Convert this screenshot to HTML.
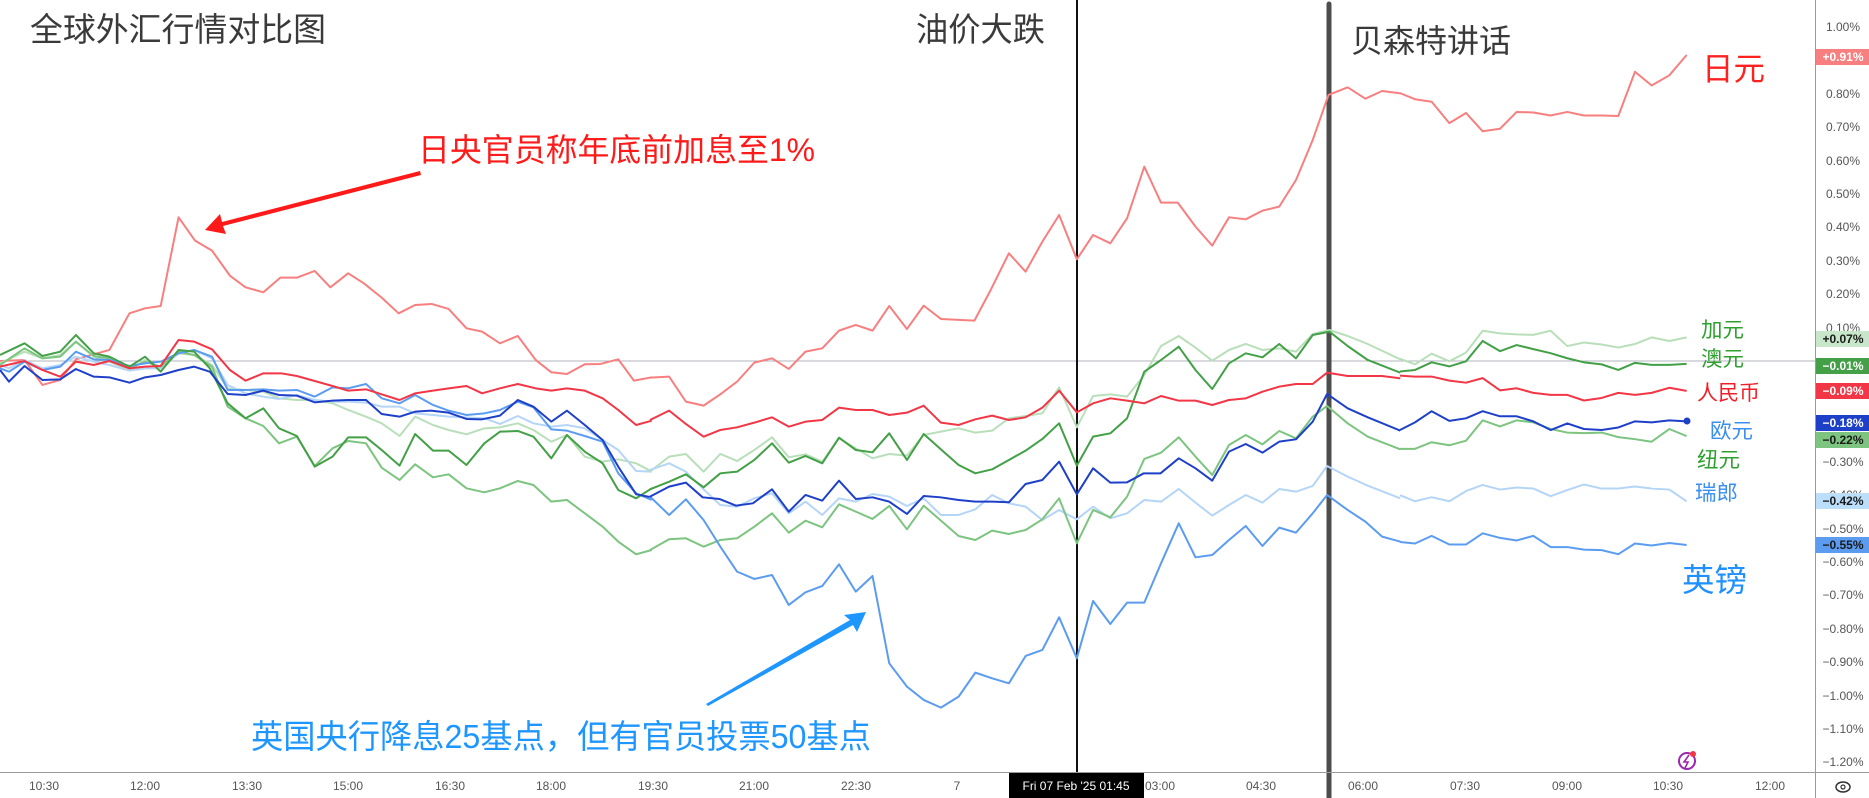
<!DOCTYPE html>
<html><head><meta charset="utf-8"><style>
html,body{margin:0;padding:0;background:#fff;}
svg{display:block;font-family:"Liberation Sans","Noto Sans CJK SC",sans-serif;}
.s{fill:none;stroke-width:2;stroke-linejoin:round;vector-effect:non-scaling-stroke;}
</style></head><body>
<svg width="1869" height="798" viewBox="0 0 1869 798" xmlns="http://www.w3.org/2000/svg">
<rect width="1869" height="798" fill="#fff"/>
<line x1="0" y1="361" x2="1815" y2="361" stroke="#b2b5be" stroke-width="1"/>
<line x1="1077" y1="0" x2="1077" y2="773" stroke="#111" stroke-width="2"/>
<line x1="1329" y1="4" x2="1329" y2="798" stroke="#4d4d4d" stroke-width="5" stroke-linecap="round"/>

<!-- Segment A: zoom3 (oy 300) / zoom5 (oy 0) -->
<g transform="scale(0.4464,0.3333)">
<polyline class="s" stroke="#f77f7f" points="0,1083 55,1080 95,1155 135,1140 170,1078 245,1050 290,940 325,925 360,918 400,652 437,722 475,752 515,827 550,862 590,877 628,833 665,833 705,813 740,862 780,820 815,850 855,893 893,940 930,915 967,912 1005,927 1045,985 1080,995 1120,1030 1160,1008 1200,1080 1235,1117 1270,1122 1310,1093 1345,1092 1385,1078 1420,1142 1460,1132"/>
</g>
<g transform="translate(0,300) scale(0.4464,0.3333)">
<polyline class="s" stroke="#b9dfba" points="0,190 55,155 95,175 135,165 170,125 210,170 245,185 290,210 325,180 360,205 400,160 435,165 475,195 510,265 550,270 590,275 625,295 665,300 705,300 745,310 780,330 820,350 855,370 895,408 930,350 970,375 1005,390 1045,403 1085,385 1120,382 1160,370 1195,390 1235,425 1270,405 1310,470 1350,485 1385,478 1425,490 1460,515"/>
<polyline class="s" stroke="#b5d5f7" points="0,195 20,205 55,180 95,205 135,195 170,170 210,185 245,195 290,212 325,205 360,205 400,160 435,150 475,175 510,255 550,280 590,290 625,297 665,285 705,300 745,305 780,305 820,308 855,320 895,320 930,340 970,345 1005,350 1045,352 1085,355 1120,372 1160,348 1195,370 1235,380 1270,375 1310,385 1350,420 1385,450 1425,513 1460,515"/>
<polyline class="s" stroke="#7cc47f" points="0,195 55,145 95,175 135,170 170,125 210,168 245,175 290,205 325,185 360,200 400,155 435,165 475,200 510,320 550,355 590,378 625,430 665,410 705,498 745,445 780,423 820,430 855,503 895,540 930,493 970,532 1005,523 1045,565 1085,577 1120,565 1160,543 1195,555 1235,605 1270,600 1310,640 1350,680 1385,725 1425,763 1460,750"/>
<polyline class="s" stroke="#5b9cf0" points="0,205 20,215 55,185 95,210 135,200 170,155 210,178 245,180 290,198 325,190 360,185 400,160 435,150 475,170 510,270 550,270 590,268 625,272 665,270 705,290 745,262 780,265 820,252 855,295 895,310 930,285 970,315 1005,332 1045,345 1085,340 1120,330 1160,305 1195,322 1235,388 1270,392 1310,408 1350,425 1385,520 1425,580 1460,600"/>
<polyline class="s" stroke="#43a047" points="0,165 55,130 95,168 135,155 170,105 210,160 245,170 290,200 325,170 360,215 400,150 435,155 470,205 510,310 550,355 590,325 625,385 665,408 705,500 745,470 780,412 820,412 855,450 895,497 930,402 970,452 1005,452 1045,495 1085,430 1120,395 1160,393 1195,410 1235,475 1270,405 1310,455 1350,490 1385,570 1425,595 1460,565"/>
<polyline class="s" stroke="#1e40c8" points="0,210 20,245 55,198 95,240 135,238 170,207 210,230 245,232 290,248 325,232 360,225 400,210 435,200 470,215 510,282 550,285 590,272 625,285 665,287 705,307 745,302 780,300 820,300 855,342 895,350 930,335 965,332 1005,338 1045,357 1080,358 1120,347 1160,300 1195,320 1235,365 1270,332 1310,375 1350,420 1385,500 1425,583 1460,592"/>
<polyline class="s" stroke="#f23645" points="0,200 55,183 95,210 135,230 170,185 210,195 245,183 290,205 325,200 360,198 400,120 435,125 475,148 515,210 550,242 590,220 630,220 665,228 705,243 745,258 780,272 820,268 855,283 895,300 930,280 970,272 1005,265 1045,258 1080,280 1120,265 1160,252 1200,265 1235,272 1270,265 1310,272 1350,295 1385,330 1425,375 1460,362"/>
</g>

<!-- Segment B: zoom6 (oy 0) / zoom4 (oy 280) -->
<g transform="translate(650,0) scale(0.4785,0.3333)">
<polyline class="s" stroke="#f77f7f" points="0,1133 40,1130 75,1205 112,1217 147,1183 182,1145 218,1088 255,1075 290,1107 325,1055 360,1045 395,992 430,975 465,992 500,918 537,987 572,917 608,957 678,962 712,870 750,760 785,815 820,725 855,645 892,778 926,705 962,730 997,655 1033,500 1068,608 1103,608 1140,680 1175,737 1210,652 1245,658 1280,632 1315,620 1350,540 1385,420 1418,285 1458,262 1495,296 1530,273 1568,280"/>
</g>
<g transform="translate(650,280) scale(0.4785,0.3333)">
<polyline class="s" stroke="#b9dfba" points="0,575 40,530 75,522 112,575 147,522 182,543 218,510 255,472 290,532 325,523 360,545 395,475 430,505 465,535 500,522 537,527 572,465 608,455 645,445 680,458 715,452 750,415 785,408 820,400 855,322 892,442 926,348 962,343 997,350 1033,285 1068,198 1105,168 1140,203 1175,242 1210,210 1245,192 1280,210 1315,205 1350,215 1385,162 1420,150 1458,168 1500,192 1568,238"/>
<polyline class="s" stroke="#b5d5f7" points="0,570 40,550 75,575 112,628 147,675 182,680 218,655 255,640 290,700 325,665 360,705 395,655 430,665 465,642 500,650 537,678 572,655 608,705 645,705 680,688 715,645 750,670 785,680 820,720 855,690 892,718 926,680 962,715 997,700 1033,660 1068,665 1105,627 1140,668 1175,707 1210,675 1245,645 1280,668 1315,627 1350,635 1385,618 1415,558 1458,590 1500,617 1568,655"/>
<polyline class="s" stroke="#7cc47f" points="0,810 40,778 75,775 112,800 147,780 182,775 218,740 255,700 290,758 325,722 360,742 395,673 430,695 465,717 500,678 537,748 572,677 608,722 645,768 680,780 715,752 750,762 785,750 820,718 855,655 892,790 926,690 962,712 997,650 1033,537 1068,518 1105,472 1140,530 1175,585 1210,495 1245,465 1280,493 1315,453 1350,475 1385,410 1415,378 1458,430 1500,470 1568,508"/>
<polyline class="s" stroke="#5b9cf0" points="0,650 40,705 75,658 112,720 147,800 182,875 218,897 255,885 290,975 325,937 360,918 395,853 430,935 465,888 500,1150 537,1220 572,1260 608,1283 645,1250 680,1178 715,1195 750,1210 785,1128 820,1110 855,1012 892,1135 926,963 962,1032 997,968 1033,968 1068,850 1105,730 1140,832 1175,825 1210,780 1245,738 1280,798 1315,743 1350,758 1385,700 1415,645 1458,690 1495,725 1530,770 1568,785"/>
<polyline class="s" stroke="#43a047" points="0,628 40,605 75,583 112,622 147,580 182,575 218,540 255,490 290,548 325,528 360,550 395,473 430,510 465,517 500,460 537,540 572,462 608,508 645,555 680,580 715,568 750,540 785,512 820,477 855,430 892,557 926,470 962,460 997,415 1033,275 1068,240 1105,200 1140,270 1175,327 1210,250 1245,220 1280,232 1315,192 1350,235 1385,165 1420,155 1458,198 1500,240 1568,278"/>
<polyline class="s" stroke="#1e40c8" points="0,650 40,620 75,608 110,652 145,657 180,677 215,670 255,628 290,695 325,645 360,662 395,602 430,657 465,652 500,665 537,702 572,648 607,652 645,660 680,665 715,665 750,667 785,612 820,600 855,545 892,643 926,565 962,608 997,607 1032,580 1067,580 1105,535 1140,565 1175,602 1210,515 1245,492 1280,518 1315,485 1350,478 1385,425 1415,342 1458,385 1500,412 1568,452"/>
<polyline class="s" stroke="#f23645" points="0,420 40,392 75,432 112,470 147,450 182,442 218,428 255,412 290,440 325,425 360,420 395,383 430,390 465,390 500,405 537,398 572,377 608,428 645,435 680,418 715,407 750,420 785,412 820,383 855,332 892,397 926,370 962,355 997,362 1033,370 1068,348 1105,362 1140,362 1175,375 1210,360 1245,355 1280,335 1315,320 1350,312 1385,312 1415,278 1458,288 1530,288 1568,295"/>
</g>

<!-- Segment C: zoom1 -->
<g transform="translate(1400,0) scale(0.3333,0.5089)">
<polyline class="s" stroke="#f77f7f" points="0,183 45,195 95,200 148,242 198,222 248,258 300,253 350,220 400,221 452,227 502,220 552,227 605,227 655,228 705,141 755,168 808,148 860,108"/>
<polyline class="s" stroke="#b9dfba" points="0,705 45,716 95,695 148,710 198,693 248,650 300,655 350,657 400,658 452,650 502,680 552,673 605,677 655,683 705,676 755,663 808,670 860,663"/>
<polyline class="s" stroke="#b5d5f7" points="0,973 45,985 95,977 148,985 198,965 248,953 300,962 350,958 400,960 452,975 502,963 552,952 605,960 655,960 705,956 755,960 808,962 860,985"/>
<polyline class="s" stroke="#7cc47f" points="0,882 45,882 95,869 148,875 198,866 248,826 300,838 350,826 400,830 452,843 502,850 552,851 605,850 655,859 705,863 755,868 808,843 860,857"/>
<polyline class="s" stroke="#5b9cf0" points="0,1065 45,1068 95,1053 148,1070 198,1070 248,1048 300,1057 350,1062 400,1053 452,1075 502,1075 552,1080 605,1081 655,1089 705,1068 755,1072 808,1067 860,1071"/>
<polyline class="s" stroke="#43a047" points="0,730 45,727 95,712 148,720 198,710 248,670 300,690 350,678 400,686 452,694 502,704 552,712 605,716 655,727 705,713 755,717 808,717 860,715"/>
<polyline class="s" stroke="#1e40c8" points="0,845 45,830 95,808 148,827 198,822 248,808 300,818 350,818 400,828 452,845 502,832 552,843 605,845 655,840 705,828 755,830 808,826 860,828"/>
<polyline class="s" stroke="#f23645" points="0,738 45,740 95,740 148,748 198,752 248,743 300,767 350,763 400,772 452,776 502,776 552,787 605,782 655,772 705,776 755,772 808,762 860,768"/>
</g>
<circle cx="1687" cy="421" r="3.5" fill="#1e40c8"/>

<!-- annotations -->
<text x="30" y="41" font-size="33" fill="#3a3a3a" textLength="296" lengthAdjust="spacingAndGlyphs">全球外汇行情对比图</text>
<text x="916" y="41" font-size="33" fill="#3a3a3a" textLength="129" lengthAdjust="spacingAndGlyphs">油价大跌</text>
<text x="1351" y="52" font-size="32" fill="#3a3a3a" textLength="160" lengthAdjust="spacingAndGlyphs">贝森特讲话</text>
<text x="418" y="161" font-size="32" fill="#ff1a1a" textLength="397" lengthAdjust="spacingAndGlyphs">日央官员称年底前加息至1%</text>
<polygon points="420,171 421,175 223,226 226,234 205,230 220,214 222,222" fill="#ff1a1a"/>
<text x="251" y="748" font-size="33" fill="#1e96ff" textLength="620" lengthAdjust="spacingAndGlyphs">英国央行降息25基点，但有官员投票50基点</text>
<polygon points="706,704 708,706 853,625 857,632 866,612 844,615 850,620" fill="#1e96ff"/>

<text x="1702" y="80" font-size="32" fill="#ff2020" textLength="63" lengthAdjust="spacingAndGlyphs">日元</text>
<text x="1701" y="337" font-size="21" fill="#2ea02e" textLength="43" lengthAdjust="spacingAndGlyphs">加元</text>
<text x="1701" y="366" font-size="21" fill="#2ea02e" textLength="43" lengthAdjust="spacingAndGlyphs">澳元</text>
<text x="1697" y="400" font-size="21" fill="#f0202a" textLength="63" lengthAdjust="spacingAndGlyphs">人民币</text>
<text x="1710" y="438" font-size="21" fill="#3a8ff0" textLength="43" lengthAdjust="spacingAndGlyphs">欧元</text>
<text x="1697" y="467" font-size="21" fill="#2ea02e" textLength="43" lengthAdjust="spacingAndGlyphs">纽元</text>
<text x="1695" y="500" font-size="21" fill="#3a8ff0" textLength="43" lengthAdjust="spacingAndGlyphs">瑞郎</text>
<text x="1682" y="591" font-size="32" fill="#1e90ff" textLength="65" lengthAdjust="spacingAndGlyphs">英镑</text>

<!-- icon -->
<circle cx="1687" cy="761" r="8" fill="none" stroke="#9c27b0" stroke-width="2"/>
<path d="M1689,755 L1684,762 L1688,762 L1685,768" fill="none" stroke="#9c27b0" stroke-width="1.6"/>
<circle cx="1693" cy="754" r="3" fill="#f23645"/>

<!-- axes -->
<line x1="0" y1="772.5" x2="1869" y2="772.5" stroke="#9a9a9a" stroke-width="1"/>
<line x1="1815.5" y1="0" x2="1815.5" y2="798" stroke="#9a9a9a" stroke-width="1"/>
<g font-size="12" fill="#555" text-anchor="middle">
<text x="1843" y="31">1.00%</text>
<text x="1843" y="98">0.80%</text>
<text x="1843" y="131">0.70%</text>
<text x="1843" y="165">0.60%</text>
<text x="1843" y="198">0.50%</text>
<text x="1843" y="231">0.40%</text>
<text x="1843" y="265">0.30%</text>
<text x="1843" y="298">0.20%</text>
<text x="1843" y="332">0.10%</text>
<text x="1843" y="466">−0.30%</text>
<text x="1843" y="499">−0.40%</text>
<text x="1843" y="533">−0.50%</text>
<text x="1843" y="566">−0.60%</text>
<text x="1843" y="599">−0.70%</text>
<text x="1843" y="633">−0.80%</text>
<text x="1843" y="666">−0.90%</text>
<text x="1843" y="700">−1.00%</text>
<text x="1843" y="733">−1.10%</text>
<text x="1843" y="766">−1.20%</text>
</g>
<g font-size="12" text-anchor="middle" font-weight="bold">
<rect x="1816" y="49" width="53" height="16" fill="#f77f7f"/><text x="1843" y="61" fill="#fff">+0.91%</text>
<rect x="1816" y="331" width="53" height="16" fill="#c8e6c9"/><text x="1843" y="343" fill="#1a1a1a">+0.07%</text>
<rect x="1816" y="358" width="53" height="16" fill="#43a047"/><text x="1843" y="370" fill="#fff">−0.01%</text>
<rect x="1816" y="383" width="53" height="16" fill="#f23645"/><text x="1843" y="395" fill="#fff">−0.09%</text>
<rect x="1816" y="415" width="53" height="16" fill="#1e40c8"/><text x="1843" y="427" fill="#fff">−0.18%</text>
<rect x="1816" y="432" width="53" height="16" fill="#7cc47f"/><text x="1843" y="444" fill="#1a1a1a">−0.22%</text>
<rect x="1816" y="493" width="53" height="16" fill="#bbdefb"/><text x="1843" y="505" fill="#1a1a1a">−0.42%</text>
<rect x="1816" y="537" width="53" height="16" fill="#5b9cf0"/><text x="1843" y="549" fill="#1a1a1a">−0.55%</text>
</g>
<g font-size="12" fill="#555" text-anchor="middle">
<text x="44" y="790">10:30</text>
<text x="145" y="790">12:00</text>
<text x="247" y="790">13:30</text>
<text x="348" y="790">15:00</text>
<text x="450" y="790">16:30</text>
<text x="551" y="790">18:00</text>
<text x="653" y="790">19:30</text>
<text x="754" y="790">21:00</text>
<text x="856" y="790">22:30</text>
<text x="957" y="790">7</text>
<text x="1160" y="790">03:00</text>
<text x="1261" y="790">04:30</text>
<text x="1363" y="790">06:00</text>
<text x="1465" y="790">07:30</text>
<text x="1567" y="790">09:00</text>
<text x="1668" y="790">10:30</text>
<text x="1770" y="790">12:00</text>
</g>
<rect x="1009" y="773" width="135" height="25" fill="#000"/>
<text x="1076" y="790" font-size="12" fill="#fff" text-anchor="middle">Fri 07 Feb '25   01:45</text>
<ellipse cx="1843" cy="787" rx="7" ry="5" fill="none" stroke="#333" stroke-width="1.5"/>
<circle cx="1843" cy="787" r="2" fill="none" stroke="#333" stroke-width="1.2"/>
</svg>
</body></html>
